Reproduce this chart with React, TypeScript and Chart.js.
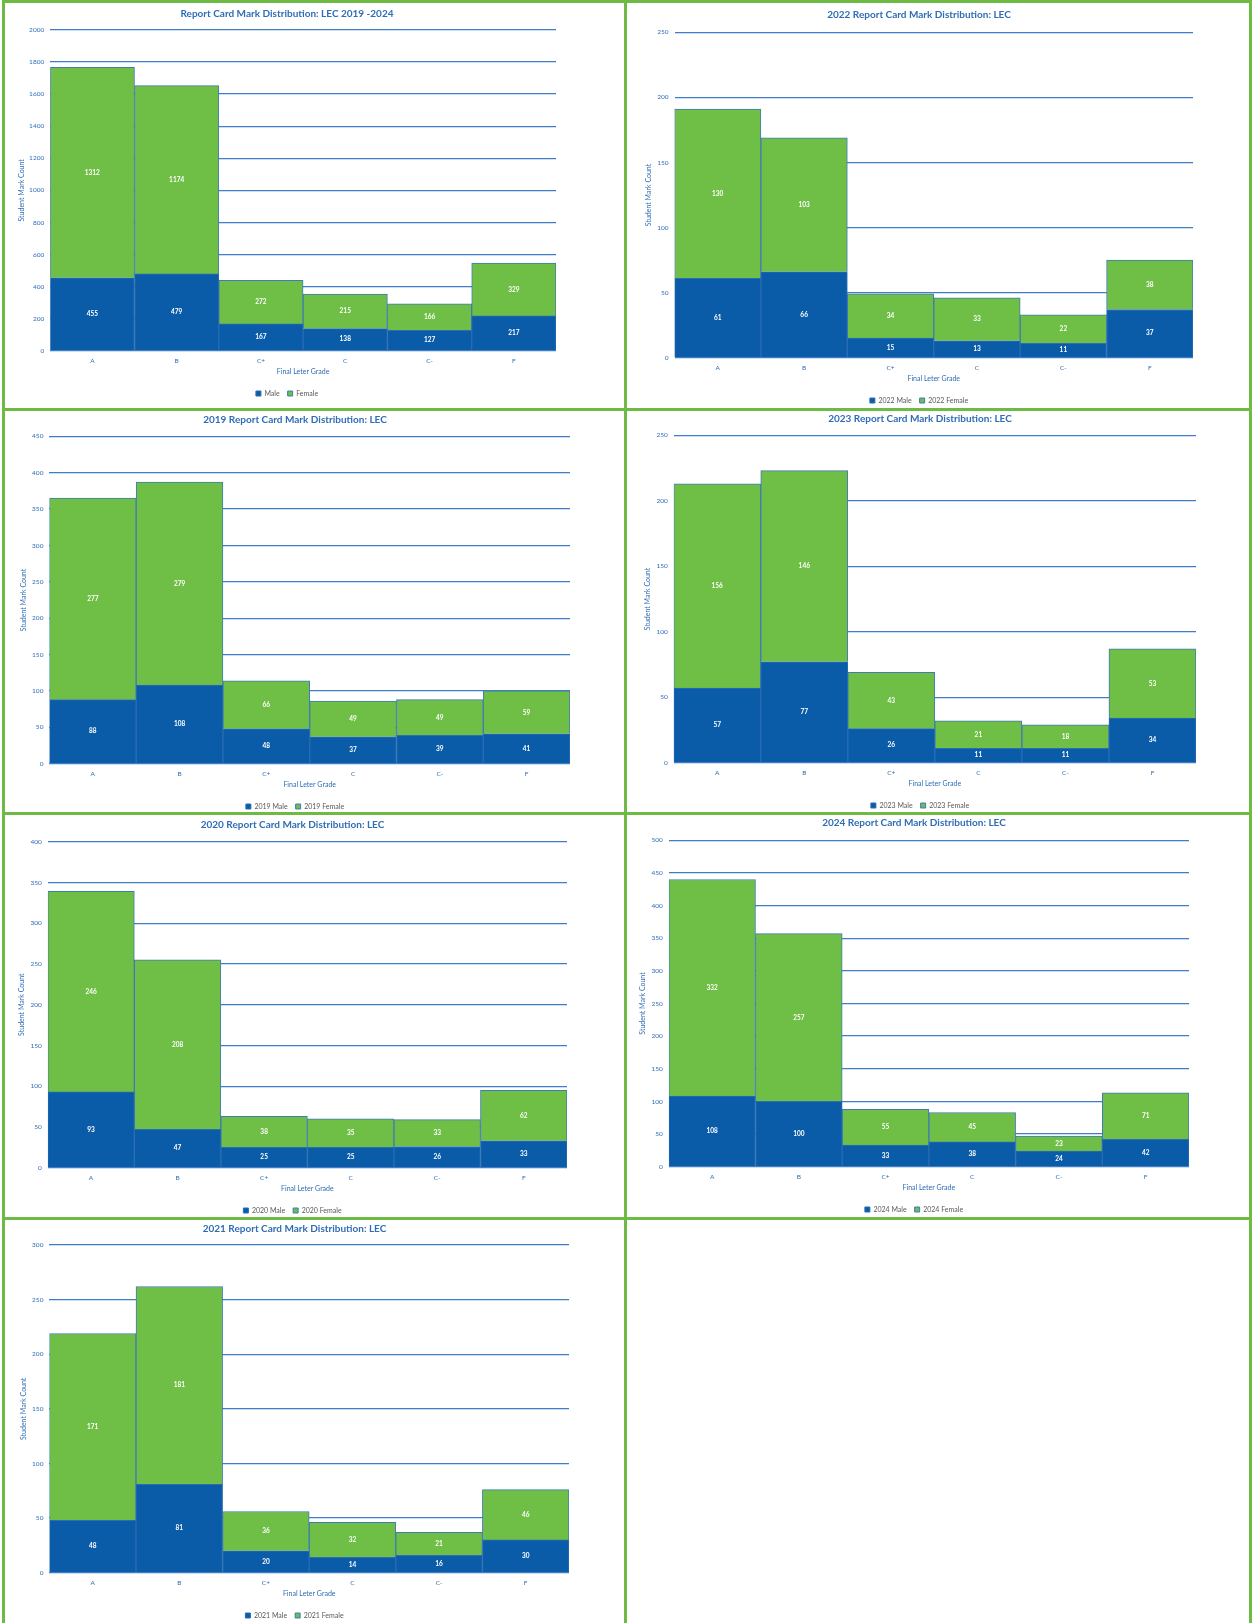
import React, { useEffect, useRef } from 'react';
import { Chart, registerables } from 'chart.js';

Chart.register(...registerables);

// ---------- data ----------
const grades = ['A', 'B', 'C+', 'C', 'C-', 'F'];

const allMale = [455, 479, 167, 138, 127, 217];
const allFemale = [1312, 1174, 272, 215, 166, 329];
const male2019 = [88, 108, 48, 37, 39, 41];
const female2019 = [277, 279, 66, 49, 49, 59];
const male2020 = [93, 47, 25, 25, 26, 33];
const female2020 = [246, 208, 38, 35, 33, 62];
const male2021 = [48, 81, 20, 14, 16, 30];
const female2021 = [171, 181, 36, 32, 21, 46];
const male2022 = [61, 66, 15, 13, 11, 37];
const female2022 = [130, 103, 34, 33, 22, 38];
const male2023 = [57, 77, 26, 11, 11, 34];
const female2023 = [156, 146, 43, 21, 18, 53];
const male2024 = [108, 100, 33, 38, 24, 42];
const female2024 = [332, 257, 55, 45, 23, 71];

const xAxisTitle = 'Final Leter Grade';
const yAxisTitle = 'Student Mark Count';

// ---------- styles ----------
const FONT = "Lato, 'Open Sans', sans-serif";
const MALE_COLOR = '#0b5ca8';
const FEMALE_COLOR = '#6fbe46';
const BLUE_TEXT = '#2f6db5';
const GRID_COLOR = '#3f7ec6';
const FRAME_GREEN = '#6dbb45';
const BOTTOM_STACK = 56.3;

type Spec = {
  title: string;
  male: number[];
  female: number[];
  maleLabel: string;
  femaleLabel: string;
  max: number;
  step: number;
  yTitleX: number;
  titleY: number;
  plotTop: number;
  plotBottom: number;
  plotLeft: number;
  plotRight: number;
};

const specs: Spec[] = [
  { title: 'Report Card Mark Distribution: LEC 2019 -2024', male: allMale, female: allFemale, maleLabel: 'Male', femaleLabel: 'Female', max: 2000, step: 200, yTitleX: 22.4, titleY: 14, plotTop: 30, plotBottom: 351, plotLeft: 50.2, plotRight: 556.3 },
  { title: '2022 Report Card Mark Distribution: LEC', male: male2022, female: female2022, maleLabel: '2022 Male', femaleLabel: '2022 Female', max: 250, step: 50, yTitleX: 649, titleY: 15, plotTop: 32.3, plotBottom: 357.7, plotLeft: 674.5, plotRight: 1193 },
  { title: '2019 Report Card Mark Distribution: LEC', male: male2019, female: female2019, maleLabel: '2019 Male', femaleLabel: '2019 Female', max: 450, step: 50, yTitleX: 24.5, titleY: 419.7, plotTop: 436.3, plotBottom: 763.3, plotLeft: 49.4, plotRight: 570.2 },
  { title: '2023 Report Card Mark Distribution: LEC', male: male2023, female: female2023, maleLabel: '2023 Male', femaleLabel: '2023 Female', max: 250, step: 50, yTitleX: 648.2, titleY: 418.7, plotTop: 435.3, plotBottom: 762.7, plotLeft: 673.7, plotRight: 1195.9 },
  { title: '2020 Report Card Mark Distribution: LEC', male: male2020, female: female2020, maleLabel: '2020 Male', femaleLabel: '2020 Female', max: 400, step: 50, yTitleX: 22.4, titleY: 824.7, plotTop: 841.7, plotBottom: 1167.3, plotLeft: 47.8, plotRight: 566.5 },
  { title: '2024 Report Card Mark Distribution: LEC', male: male2024, female: female2024, maleLabel: '2024 Male', femaleLabel: '2024 Female', max: 500, step: 50, yTitleX: 643.4, titleY: 823.3, plotTop: 840.3, plotBottom: 1166.7, plotLeft: 668.8, plotRight: 1189.4 },
  { title: '2021 Report Card Mark Distribution: LEC', male: male2021, female: female2021, maleLabel: '2021 Male', femaleLabel: '2021 Female', max: 300, step: 50, yTitleX: 24.5, titleY: 1228.7, plotTop: 1245, plotBottom: 1572.3, plotLeft: 49.4, plotRight: 569.4 },
];

const segmentLabels = {
  id: 'segmentLabels',
  afterDatasetsDraw(chart: any) {
    const ctx = chart.ctx;
    ctx.save();
    ctx.font = `bold 6.5px ${FONT}`;
    ctx.fillStyle = '#ffffff';
    ctx.textAlign = 'center';
    ctx.textBaseline = 'middle';
    chart.data.datasets.forEach((ds: any, i: number) => {
      const meta = chart.getDatasetMeta(i);
      meta.data.forEach((el: any, j: number) => {
        const p = el.getProps(['x', 'y', 'base'], true);
        ctx.fillText(String(ds.data[j]), p.x, (p.y + p.base) / 2);
      });
    });
    ctx.restore();
  },
};

function StackedChart({ spec }: { spec: Spec }) {
  const ref = useRef<HTMLCanvasElement>(null);
  const left = Math.round(spec.yTitleX - 4.2);
  const top = Math.round(spec.titleY - 6);
  const width = Math.round(spec.plotRight - left);
  const height = Math.round(spec.plotBottom + BOTTOM_STACK - top);

  useEffect(() => {
    if (!ref.current) return;
    const chart = new Chart(ref.current, {
      type: 'bar',
      data: {
        labels: grades,
        datasets: [
          {
            label: spec.maleLabel,
            data: spec.male,
            backgroundColor: MALE_COLOR,
            borderColor: '#2a6db3',
            borderWidth: 1,
            categoryPercentage: 1,
            barPercentage: 1,
          },
          {
            label: spec.femaleLabel,
            data: spec.female,
            backgroundColor: FEMALE_COLOR,
            borderColor: '#3f7bb8',
            borderWidth: 1,
            categoryPercentage: 1,
            barPercentage: 1,
          },
        ],
      },
      options: {
        responsive: false,
        animation: false,
        devicePixelRatio: 1,
        layout: { padding: 0 },
        plugins: {
          title: {
            display: true,
            text: spec.title,
            color: BLUE_TEXT,
            font: { family: FONT, size: 10, weight: 'bold', lineHeight: 1.2 },
            padding: { top: 0, bottom: spec.plotTop - top - 12 },
          },
          legend: {
            display: true,
            position: 'bottom',
            labels: {
              boxWidth: 5,
              boxHeight: 5,
              padding: 8,
              color: '#595959',
              font: { family: FONT, size: 7 },
            },
          },
          tooltip: { enabled: false },
        },
        scales: {
          x: {
            stacked: true,
            grid: { display: false, drawTicks: false },
            border: { display: false },
            ticks: {
              color: BLUE_TEXT,
              font: { family: FONT, size: 6.5, lineHeight: 1.2 },
              padding: 6,
              maxRotation: 0,
              autoSkip: false,
            },
            title: {
              display: true,
              text: xAxisTitle,
              color: BLUE_TEXT,
              font: { family: FONT, size: 7, lineHeight: 1.2 },
              padding: { top: -2.5, bottom: 5.6 },
            },
          },
          y: {
            stacked: true,
            min: 0,
            max: spec.max,
            grid: { color: GRID_COLOR, lineWidth: 1.3, drawTicks: false },
            border: { display: false },
            ticks: {
              stepSize: spec.step,
              color: BLUE_TEXT,
              font: { family: FONT, size: 6.5, lineHeight: 1.2 },
              padding: 6,
              callback: (v: any) => String(v),
            },
            title: {
              display: true,
              text: yAxisTitle,
              color: BLUE_TEXT,
              font: { family: FONT, size: 7, lineHeight: 1.2 },
              padding: { top: 0, bottom: 0 },
            },
            afterFit: (scale: any) => {
              scale.width = spec.plotLeft - left;
            },
          },
        },
      },
      plugins: [segmentLabels],
    } as any);
    return () => chart.destroy();
  }, []);

  return (
    <canvas
      ref={ref}
      width={width}
      height={height}
      style={{ position: 'absolute', left, top, width, height }}
    />
  );
}

const frameLines = [
  { left: 2, top: 0, width: 1250, height: 3 },
  { left: 2, top: 408, width: 1250, height: 3 },
  { left: 2, top: 812, width: 1250, height: 3 },
  { left: 2, top: 1217, width: 1250, height: 3 },
  { left: 2, top: 0, width: 3, height: 1623 },
  { left: 624, top: 0, width: 3, height: 1623 },
  { left: 1249, top: 0, width: 3, height: 1623 },
];

export default function App() {
  return (
    <div
      style={{
        position: 'absolute',
        left: 0,
        top: 0,
        width: 1252,
        height: 1623,
        background: '#ffffff',
        overflow: 'hidden',
      }}
    >
      {specs.map((s, i) => (
        <StackedChart key={i} spec={s} />
      ))}
      {frameLines.map((l, i) => (
        <div
          key={'f' + i}
          style={{ position: 'absolute', ...l, background: FRAME_GREEN }}
        />
      ))}
    </div>
  );
}
